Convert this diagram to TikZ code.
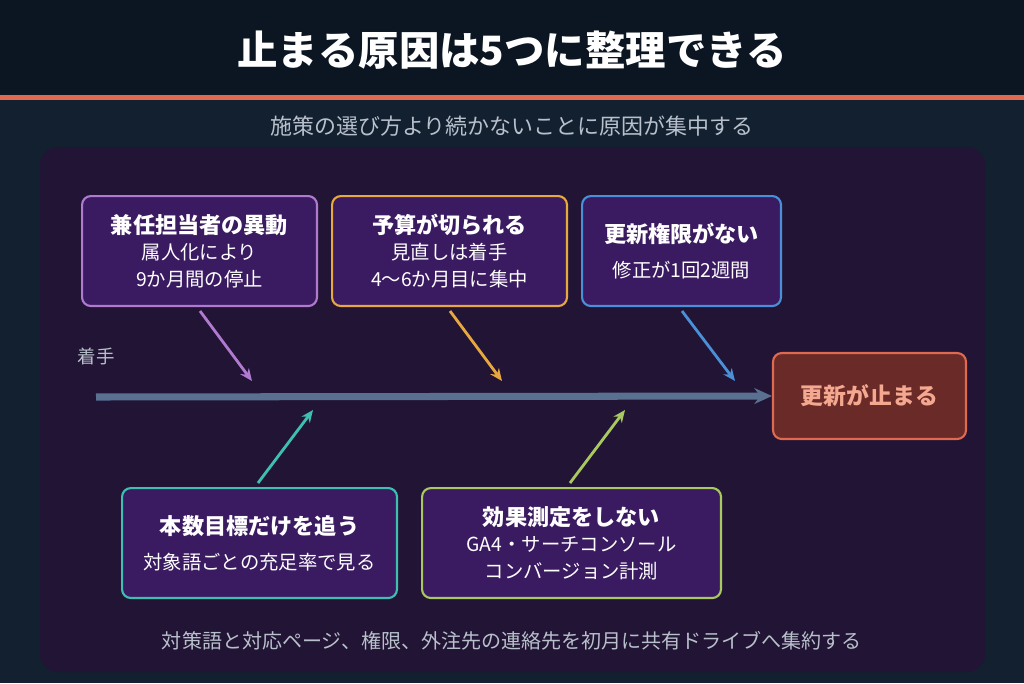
\documentclass[tikz,border=0pt]{standalone}
\usepackage{fontspec}
\setmainfont{Noto Sans CJK JP}
\usetikzlibrary{arrows.meta, positioning}
\definecolor{bgNavy}{HTML}{12202F}
\definecolor{titleBar}{HTML}{0B1622}
\definecolor{accentOrange}{HTML}{E06A50}
\definecolor{panelPurple}{HTML}{221434}
\definecolor{boxFill}{HTML}{3A1A60}
\definecolor{causePurple}{HTML}{B07AD0}
\definecolor{causeOrange}{HTML}{E8A840}
\definecolor{causeBlue}{HTML}{4A90D8}
\definecolor{causeTeal}{HTML}{3EC0B0}
\definecolor{causeGreen}{HTML}{A8C860}
\definecolor{spineGray}{HTML}{5A7090}
\definecolor{mutedText}{HTML}{B8C0CC}
\definecolor{effectFill}{HTML}{6A2A28}
\definecolor{effectText}{HTML}{F4A890}
\begin{document}
\begin{tikzpicture}[
        x=0.02cm, y=-0.02cm,
        cause/.style={rectangle, rounded corners=5pt, line width=1.2pt, fill=boxFill, text=white, align=center, font=\fontsize{11}{15}\selectfont, anchor=north west},
        arrow/.style={-{Stealth[length=7pt,width=6pt]}, line width=1.6pt}
    ]
        % background
        \fill[bgNavy] (0,0) rectangle (1024,683);
        \fill[titleBar] (0,0) rectangle (1024,95);
        \fill[accentOrange] (0,95) rectangle (1024,100);
        \node[font=\fontsize{23}{27}\selectfont\bfseries, text=white] (title) at (512,50) {止まる原因は5つに整理できる};
        \node[font=\fontsize{12.5}{14}\selectfont, text=mutedText] (sub) at (512,126) {施策の選び方より続かないことに原因が集中する};
        \fill[panelPurple, rounded corners=10pt] (40,147) rectangle (985,672);

        % spine
        \coordinate (start) at (96,397);
        \node[font=\fontsize{10.5}{12}\selectfont, text=mutedText] (st) at (96,356) {着手};
        \node[rectangle, rounded corners=5pt, line width=1.2pt, draw=accentOrange, fill=effectFill, text=effectText, font=\fontsize{13}{15}\selectfont\bfseries, minimum width=3.86cm, minimum height=1.72cm] (effect) at (869.5,396) {更新が止まる};
        \draw[-{Stealth[length=10pt,width=9pt]}, line width=4pt, spineGray] (start) -- (effect.west);

        % upper causes
        \node[cause, draw=causePurple, minimum width=4.7cm, minimum height=2.2cm] (c1) at (81,195) {{\fontsize{12.6}{17}\selectfont\bfseries 兼任担当者の異動}\\属人化により\\9か月間の停止};
        \node[cause, draw=causeOrange, minimum width=4.7cm, minimum height=2.2cm] (c2) at (331,195) {{\fontsize{12.6}{17}\selectfont\bfseries 予算が切られる}\\見直しは着手\\4〜6か月目に集中};
        \node[cause, draw=causeBlue, minimum width=3.98cm, minimum height=2.2cm] (c3) at (581,195) {{\fontsize{12.6}{17}\selectfont\bfseries 更新権限がない}\\[5pt]修正が1回2週間};
        % lower causes
        \node[cause, draw=causeTeal, minimum width=5.5cm, minimum height=2.2cm] (c4) at (121,487) {{\fontsize{12.6}{17}\selectfont\bfseries 本数目標だけを追う}\\[5pt]対象語ごとの充足率で見る};
        \node[cause, draw=causeGreen, minimum width=5.98cm, minimum height=2.2cm] (c5) at (421,487) {{\fontsize{12.6}{17}\selectfont\bfseries 効果測定をしない}\\GA4・サーチコンソール\\コンバージョン計測};

        \coordinate (h1) at (252,381);
        \coordinate (h2) at (502,381);
        \coordinate (h3) at (735,381);
        \coordinate (h4) at (313,410);
        \coordinate (h5) at (625,410);
        \draw[arrow, causePurple] (200,311) -- (h1);
        \draw[arrow, causeOrange] (450,311) -- (h2);
        \draw[arrow, causeBlue] (682,311) -- (h3);
        \draw[arrow, causeTeal] (258,483) -- (h4);
        \draw[arrow, causeGreen] (570,483) -- (h5);

        \node[font=\fontsize{11.4}{13}\selectfont, text=mutedText] (note) at (512,641) {対策語と対応ページ、権限、外注先の連絡先を初月に共有ドライブへ集約する};
    \end{tikzpicture}
\end{document}
